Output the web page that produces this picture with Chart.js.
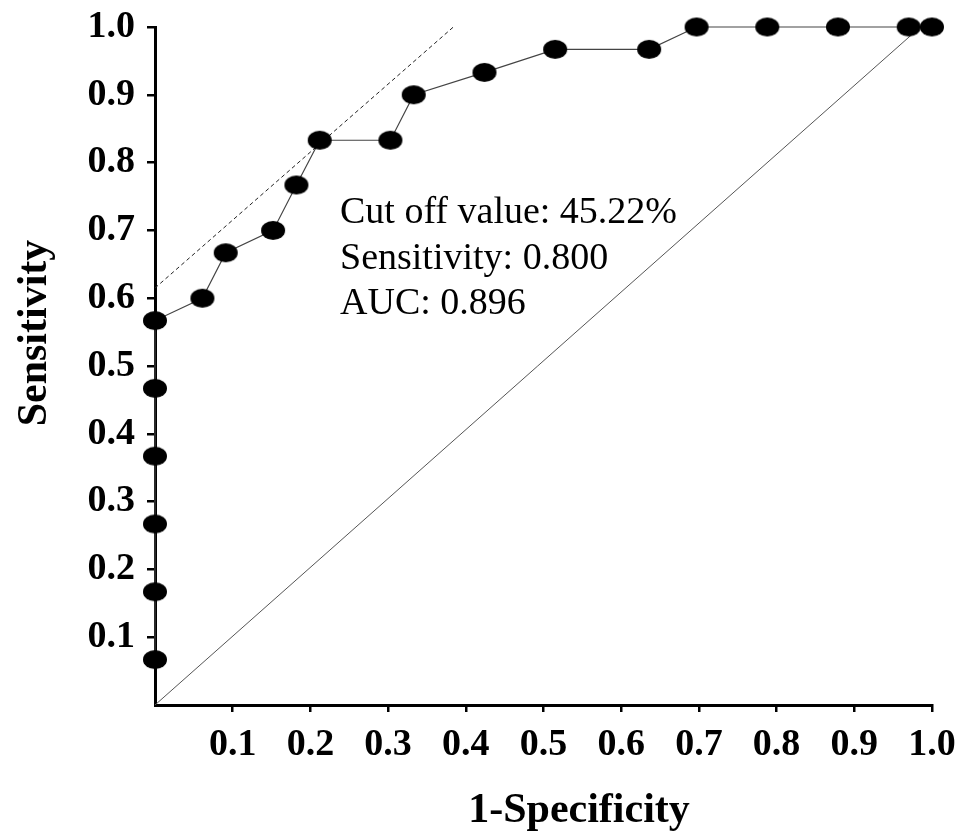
<!DOCTYPE html>
<html>
<head>
<meta charset="utf-8">
<script src="https://cdn.jsdelivr.net/npm/chart.js@4.4.1/dist/chart.umd.min.js"></script>
<style>
    body { margin: 0; background: #fff; }
    #wrap { width: 976px; height: 832px; }
</style>
</head>
<body>
<div id="wrap"><canvas id="canvas" width="976" height="832"></canvas></div>
<script>
// ROC curve points (1-specificity, sensitivity)
const fpr = [0, 0, 0, 0, 0, 0, 0.061, 0.091, 0.152, 0.182, 0.212, 0.303, 0.333, 0.424, 0.515, 0.636, 0.697, 0.788, 0.879, 0.970, 1.0]
const tpr = [0.067, 0.167, 0.267, 0.367, 0.467, 0.567, 0.600, 0.667, 0.700, 0.767, 0.833, 0.833, 0.900, 0.933, 0.967, 0.967, 1.0, 1.0, 1.0, 1.0, 1.0]

// reference diagonal and the dashed tangent at the cut off
const refX = [0, 0.985]
const refY = [0, 1.0]
const tanX = [0, 0.384]
const tanY = [0.615, 1.0]

const notes = ['Cut off value: 45.22%', 'Sensitivity: 0.800', 'AUC: 0.896']
const xTitle = '1-Specificity'
const yTitle = 'Sensitivity'

const toPoints = (xs, ys) => xs.map((x, i) => ({ x, y: ys[i] }))

// black ellipse marker, a bit wider than tall
const makeDot = () => {
    const c = document.createElement('canvas')
    c.width = 26
    c.height = 21
    const g = c.getContext('2d')
    g.fillStyle = '#000'
    g.beginPath()
    g.ellipse(13, 10.5, 12, 9.5, 0, 0, Math.PI * 2)
    g.fill()
    return c
}

const textPlugin = {
    id: 'texts',
    afterDraw: chart => {
        const ctx = chart.ctx
        ctx.save()
        ctx.fillStyle = '#000'
        ctx.textBaseline = 'alphabetic'
        ctx.textAlign = 'left'
        ctx.font = '38px "Liberation Serif"'
        notes.forEach((line, i) => {
            ctx.fillText(line, 340, 223 + i * 45.5)
        })

        ctx.font = 'bold 42px "Liberation Serif"'
        ctx.textAlign = 'center'
        ctx.fillText(xTitle, 579, 822)

        ctx.translate(46, 333)
        ctx.rotate(-Math.PI / 2)
        ctx.fillText(yTitle, 0, 0)
        ctx.restore()
    }
}

const tickColor = c => (c.tick && c.tick.value === 0) ? 'rgba(0,0,0,0)' : '#000'
const tickLabel = v => v === 0 ? '' : Number(v).toFixed(1)

Chart.defaults.font.family = '"Liberation Serif"'
Chart.defaults.color = '#000'

const ctx = document.querySelector('#canvas').getContext('2d')
const myChart = new Chart(ctx, {
    type: 'scatter',
    data: {
        datasets: [{
            data: toPoints(fpr, tpr),
            showLine: true,
            borderColor: '#444',
            borderWidth: 1.2,
            pointStyle: makeDot(),
            pointRadius: 12,
            clip: false,
            order: 0
        }, {
            data: toPoints(refX, refY),
            showLine: true,
            borderColor: '#555',
            borderWidth: 1,
            pointRadius: 0,
            order: 1
        }, {
            data: toPoints(tanX, tanY),
            showLine: true,
            borderColor: '#222',
            borderWidth: 1,
            borderDash: [4, 3],
            pointRadius: 0,
            order: 1
        }]
    },
    options: {
        responsive: false,
        animation: false,
        layout: { padding: { top: 27, right: 44, left: 0, bottom: 0 } },
        plugins: {
            legend: { display: false },
            tooltip: { enabled: false }
        },
        scales: {
            x: {
                type: 'linear',
                min: 0,
                max: 1,
                afterFit: scale => {
                    scale.height = 127
                    scale.paddingLeft = 0
                    scale.paddingRight = 0
                },
                border: { display: true, color: '#000', width: 3 },
                grid: {
                    drawOnChartArea: false,
                    drawTicks: true,
                    tickLength: 7,
                    lineWidth: 2.5,
                    color: tickColor
                },
                ticks: {
                    stepSize: 0.1,
                    padding: 10,
                    maxRotation: 0,
                    font: { size: 38, weight: 'bold' },
                    callback: tickLabel
                }
            },
            y: {
                type: 'linear',
                min: 0,
                max: 1,
                afterFit: scale => {
                    scale.width = 155
                    scale.paddingTop = 0
                    scale.paddingBottom = 0
                },
                border: { display: true, color: '#000', width: 3 },
                grid: {
                    drawOnChartArea: false,
                    drawTicks: true,
                    tickLength: 8,
                    lineWidth: 2.5,
                    color: tickColor
                },
                ticks: {
                    stepSize: 0.1,
                    padding: 12,
                    font: { size: 38, weight: 'bold' },
                    callback: tickLabel
                }
            }
        }
    },
    plugins: [textPlugin]
})
</script>
</body>
</html>
